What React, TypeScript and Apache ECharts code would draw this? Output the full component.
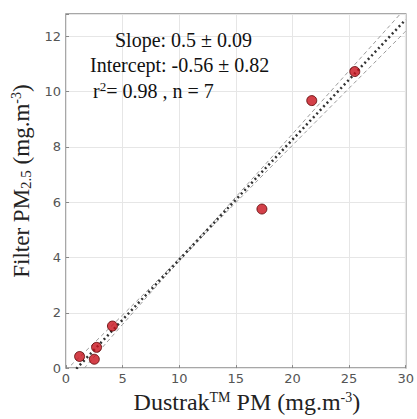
import React, { useEffect, useRef } from "react";
import * as echarts from "echarts";

const dustrak = [1.2, 2.7, 2.5, 4.1, 17.3, 21.7, 25.5];
const filter = [0.42, 0.75, 0.32, 1.52, 5.75, 9.67, 10.72];

const fitX = [0, 30];
const fitY = [-0.42, 12.6];

const bandX = [0, 5, 10.7, 16, 22, 30];
const bandUpper = [-0.07, 1.92, 4.27, 6.64, 9.38, 13.02];
const bandLower = [-0.77, 1.58, 4.17, 6.4, 8.88, 12.18];

const xTicks = [0, 5, 10, 15, 20, 25, 30];
const yTicks = [0, 2, 4, 6, 8, 10, 12];

const serif = "'Liberation Serif', 'DejaVu Serif', serif";

export default function App() {
  const ref = useRef<HTMLDivElement>(null);
  useEffect(() => {
    if (!ref.current) return;
    const chart = echarts.init(ref.current, null, { renderer: "svg" });
    const zip = (xs: number[], ys: number[]) => xs.map((x, i) => [x, ys[i]]);
    chart.setOption({
      animation: false,
      grid: { left: 66, right: 7, top: 14, bottom: 47, show: true, borderColor: "#8a8a8a", borderWidth: 1.5 },
      xAxis: {
        type: "value",
        min: xTicks[0],
        max: xTicks[xTicks.length - 1],
        interval: 5,
        axisLine: { show: false },
        axisTick: { show: true, inside: true, length: 3, lineStyle: { color: "#888" } },
        axisLabel: { color: "#555", fontSize: 13, margin: 4, fontFamily: "DejaVu Sans" },
        splitLine: { show: true, lineStyle: { color: "#e6e6e6", width: 1 } },
        name: "{a|Dustrak}{s|TM}{a| PM (mg.m}{s|-3}{a|)}",
        nameLocation: "middle",
        nameGap: 10,
        nameTextStyle: {
          padding: [0, 0, 0, 22],
          rich: {
            a: { fontFamily: serif, fontSize: 24, color: "#222" },
            s: { fontFamily: serif, fontSize: 14, color: "#222", padding: [0, 0, 10, 0] },
          },
        },
      },
      yAxis: {
        type: "value",
        min: yTicks[0],
        max: 12.8,
        interval: 2,
        axisLine: { show: false },
        axisTick: { show: true, inside: true, length: 3, lineStyle: { color: "#888" } },
        axisLabel: {
          color: "#555",
          fontSize: 13,
          margin: 5,
          fontFamily: "DejaVu Sans",
          formatter: (v: number) => (yTicks.includes(v) ? String(v) : ""),
        },
        splitLine: { show: true, lineStyle: { color: "#e6e6e6", width: 1 } },
        name: "{a|Filter PM}{b|2.5}{a| (mg.m}{s|-3}{a|)}",
        nameLocation: "middle",
        nameGap: 27,
        nameRotate: 90,
        nameTextStyle: {
          padding: [0, 0, 0, 20],
          rich: {
            a: { fontFamily: serif, fontSize: 23, color: "#222" },
            b: { fontFamily: serif, fontSize: 15, color: "#222", padding: [10, 0, 0, 0] },
            s: { fontFamily: serif, fontSize: 14, color: "#222", padding: [0, 0, 10, 0] },
          },
        },
      },
      graphic: [
        {
          type: "text",
          left: 115,
          top: 30,
          z: 100,
          style: { text: "Slope: 0.5 ± 0.09", font: `20px ${serif}`, fill: "#111" },
        },
        {
          type: "text",
          left: 90,
          top: 55,
          z: 100,
          style: { text: "Intercept: -0.56 ± 0.82", font: `20px ${serif}`, fill: "#111" },
        },
        {
          type: "text",
          left: 93,
          top: 80,
          z: 100,
          style: {
            text: "{a|r}{s|2}{a|= 0.98 , n = 7}",
            rich: {
              a: { fontFamily: serif, fontSize: 20, fill: "#111" },
              s: { fontFamily: serif, fontSize: 13, fill: "#111", padding: [0, 0, 9, 0] },
            },
          },
        },
      ],
      series: [
        {
          type: "line",
          data: zip(bandX, bandUpper),
          symbol: "none",
          smooth: true,
          lineStyle: { color: "#9a9a9a", width: 1, type: [4, 3] },
          z: 2,
        },
        {
          type: "line",
          data: zip(bandX, bandLower),
          symbol: "none",
          smooth: true,
          lineStyle: { color: "#9a9a9a", width: 1, type: [4, 3] },
          z: 2,
        },
        {
          type: "line",
          data: zip(fitX, fitY),
          symbol: "none",
          lineStyle: { color: "#333", width: 2.5, type: [2, 3] },
          z: 3,
        },
        {
          type: "scatter",
          data: zip(dustrak, filter),
          symbolSize: 10,
          itemStyle: { color: "#c8101c", borderColor: "#5a0000", borderWidth: 1 },
          z: 4,
        },
      ],
    });
    return () => chart.dispose();
  }, []);
  return (
    <div
      ref={ref}
      style={{ position: "absolute", left: 0, top: 0, width: 417, height: 419 }}
    />
  );
}
